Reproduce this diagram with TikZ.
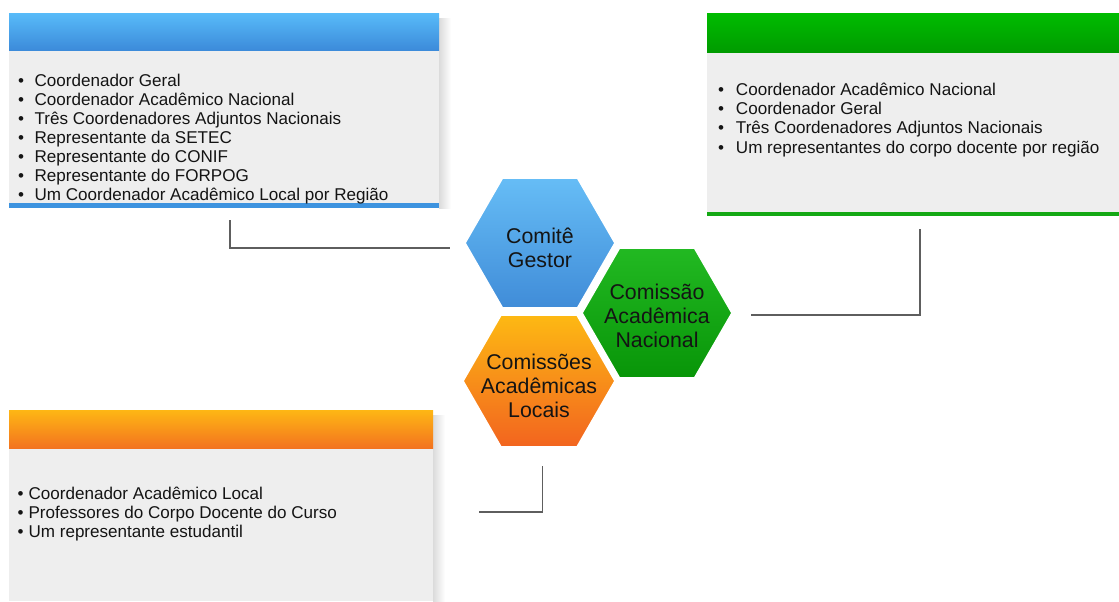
\documentclass[tikz,border=0pt]{standalone}
\usepackage{fontspec}
\setmainfont{Liberation Sans}

\definecolor{boxgray}{HTML}{EEEEEE}
\definecolor{blueA}{HTML}{58BBF9}
\definecolor{blueB}{HTML}{3C8BDA}
\definecolor{blueBar}{HTML}{3D93DF}
\definecolor{greenA}{HTML}{00BC00}
\definecolor{greenB}{HTML}{009B00}
\definecolor{greenBar}{HTML}{14A814}
\definecolor{orangeA}{HTML}{FEB714}
\definecolor{orangeB}{HTML}{F3731F}
\definecolor{hexblueA}{HTML}{66BDF6}
\definecolor{hexblueB}{HTML}{408CD8}
\definecolor{hexgreenA}{HTML}{22B922}
\definecolor{hexgreenB}{HTML}{089508}
\definecolor{hexorangeA}{HTML}{FDB913}
\definecolor{hexorangeB}{HTML}{F2641F}
\definecolor{linkgray}{HTML}{5E5E5E}
\definecolor{inktext}{HTML}{141414}

\tikzset{
  itemtext/.style={anchor=base west, inner sep=0pt, text=inktext,
    font=\fontsize{12.8}{14.5}\selectfont},
  itemdot/.style={anchor=base, inner sep=0pt, text=inktext,
    font=\fontsize{12.8}{14.5}\selectfont},
  hextext/.style={align=center, inner sep=0pt, text=inktext,
    font=\fontsize{16}{18}\selectfont},
  hexedge/.style={draw=white, line width=1.2pt, shading angle=45},
  link/.style={draw=linkgray, line width=1.1pt},
  sidehaze/.style={left color=black!14, right color=white},
}

\begin{document}
\begin{tikzpicture}[x=0.75pt, y=-0.75pt]
\useasboundingbox (0,0) rectangle (1119,601);
\fill[white] (0,0) rectangle (1119,601);

% --- upper left panel (blue) ---
\shade[sidehaze] (439,18) rectangle (451,208);
\fill[boxgray] (9,50) rectangle (439,204);
\shade[top color=blueA, bottom color=blueB] (9,13) rectangle (439,50);
\fill[blueBar] (9,203) rectangle (439,207.5);
\foreach \t [count=\i] in {Coordenador Geral,
  Coordenador Acadêmico Nacional,
  Três Coordenadores Adjuntos Nacionais,
  Representante da SETEC,
  Representante do CONIF,
  Representante do FORPOG,
  Um Coordenador Acadêmico Local por Região}{
  \pgfmathsetmacro{\yy}{86+19*(\i-1)}
  \node[itemdot] (gd\i) at (21,\yy) {•};
  \node[itemtext] (gt\i) at (34.3,\yy) {\t};
}

% --- upper right panel (green) ---
\fill[boxgray] (707,52) rectangle (1119,212);
\shade[top color=greenA, bottom color=greenB] (707,13) rectangle (1119,52.5);
\fill[greenBar] (707,211.5) rectangle (1119,215.5);
\foreach \t [count=\i] in {Coordenador Acadêmico Nacional,
  Coordenador Geral,
  Três Coordenadores Adjuntos Nacionais,
  Um representantes do corpo docente por região}{
  \pgfmathsetmacro{\yy}{95+19.4*(\i-1)}
  \node[itemdot] (nd\i) at (721,\yy) {•};
  \node[itemtext] (nt\i) at (735.7,\yy) {\t};
}

% --- lower left panel (orange) ---
\shade[sidehaze] (433,415) rectangle (445,601);
\fill[boxgray] (9,448) rectangle (433,601);
\shade[top color=orangeA, bottom color=orangeB] (9,410) rectangle (433,448);
\foreach \t [count=\i] in {Coordenador Acadêmico Local,
  Professores do Corpo Docente do Curso,
  Um representante estudantil}{
  \pgfmathsetmacro{\yy}{499.5+19*(\i-1)}
  \node[itemdot] (ld\i) at (20.5,\yy) {•};
  \node[itemtext] (lt\i) at (28.3,\yy) {\t};
}

% --- hexagons ---
\shade[hexedge, top color=hexblueA, bottom color=hexblueB, shift={(540,243)}]
  (75,0) -- (37.5,65) -- (-37.5,65) -- (-75,0) -- (-37.5,-65) -- (37.5,-65) -- cycle;
\shade[hexedge, top color=hexgreenA, bottom color=hexgreenB, shift={(657,313)}]
  (75,0) -- (37.5,65) -- (-37.5,65) -- (-75,0) -- (-37.5,-65) -- (37.5,-65) -- cycle;
\shade[hexedge, top color=hexorangeA, bottom color=hexorangeB, shift={(539,381)}]
  (76,0) -- (38,66) -- (-38,66) -- (-76,0) -- (-38,-66) -- (38,-66) -- cycle;

\node[hextext] (comite) at (540,248) {Comitê\\Gestor};
\node[hextext] (nacional) at (657,316) {Comissão\\Acadêmica\\Nacional};
\node[hextext] (locais) at (539,386) {Comissões\\Acadêmicas\\Locais};

% --- bracket connectors ---
\coordinate (c1a) at (230,220);
\coordinate (c1b) at (230,248);
\coordinate (c1c) at (450,248);
\draw[link] (c1a) -- (c1b) -- (c1c);

\coordinate (c2a) at (920,229);
\coordinate (c2b) at (920,315);
\coordinate (c2c) at (751,315);
\draw[link] (c2a) -- (c2b) -- (c2c);

\coordinate (c3a) at (542.5,466);
\coordinate (c3b) at (542.5,512);
\coordinate (c3c) at (479,512);
\draw[link] (c3a) -- (c3b) -- (c3c);
\end{tikzpicture}
\end{document}
